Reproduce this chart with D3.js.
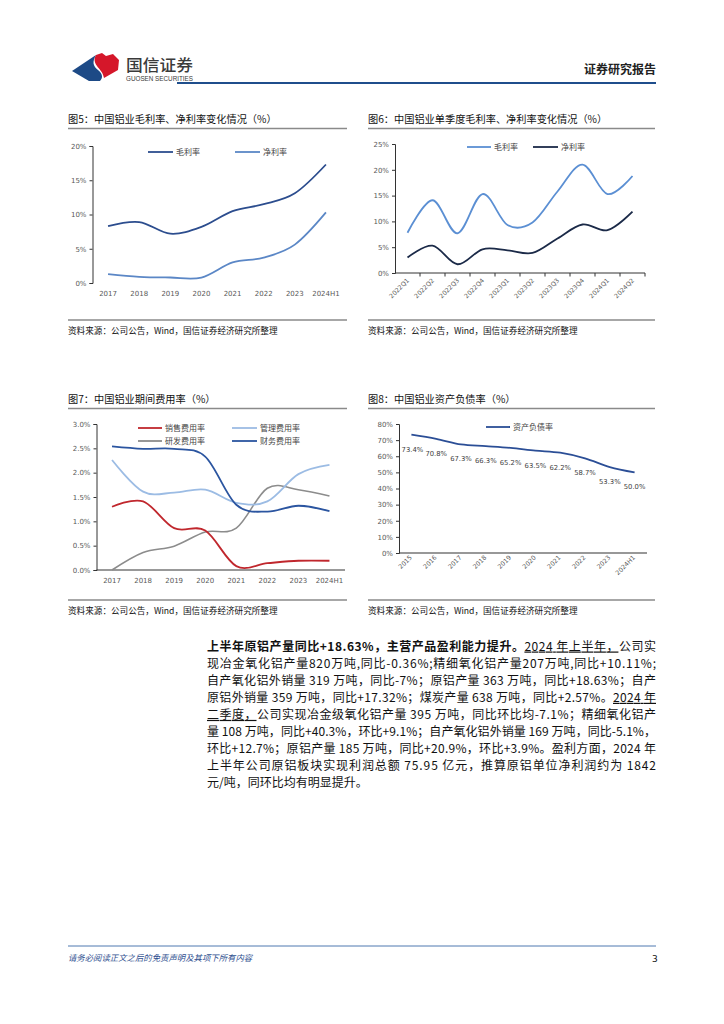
<!DOCTYPE html>
<html><head><meta charset="utf-8">
<script src="https://cdn.jsdelivr.net/npm/d3@7"></script>
<style>
html,body{margin:0;padding:0;background:#fff;}
svg{display:block;}
</style></head>
<body>
<svg id="page" width="724" height="1024"></svg>
<script>
// ---------- DATA ----------
const years5 = ["2017","2018","2019","2020","2021","2022","2023","2024H1"];
const gross5 = [8.3, 8.9, 7.2, 8.2, 10.5, 11.5, 13.1, 17.3];
const net5   = [1.3, 0.9, 0.8, 0.8, 3.0, 3.7, 5.6, 10.3];
const ticks5 = [0, 5, 10, 15, 20];

const quarters6 = ["2022Q1","2022Q2","2022Q3","2022Q4","2023Q1","2023Q2","2023Q3","2023Q4","2024Q1","2024Q2"];
const gross6 = [7.8, 14.1, 7.7, 15.3, 9.3, 9.8, 15.8, 21.0, 15.3, 18.8];
const net6   = [3.0, 5.3, 1.7, 4.6, 4.4, 3.9, 6.7, 9.4, 8.3, 11.9];
const ticks6 = [0, 5, 10, 15, 20, 25];

const years7 = ["2017","2018","2019","2020","2021","2022","2023","2024H1"];
const sales7 = [1.30, 1.41, 0.86, 0.81, 0.08, 0.14, 0.19, 0.19];
const mgmt7  = [2.26, 1.61, 1.59, 1.65, 1.38, 1.41, 1.97, 2.16];
const rnd7   = [0.00, 0.36, 0.49, 0.78, 0.86, 1.68, 1.65, 1.52];
const fin7   = [2.54, 2.49, 2.49, 2.33, 1.34, 1.20, 1.32, 1.21];
const ticks7 = [0, 0.5, 1.0, 1.5, 2.0, 2.5, 3.0];

const years8 = ["2015","2016","2017","2018","2019","2020","2021","2022","2023","2024H1"];
const debt8  = [73.4, 70.8, 67.3, 66.3, 65.2, 63.5, 62.2, 58.7, 53.3, 50.0];
const ticks8 = [0, 10, 20, 30, 40, 50, 60, 70, 80];

const titles = ["图5：中国铝业毛利率、净利率变化情况（%）","图6：中国铝业单季度毛利率、净利率变化情况（%）","图7：中国铝业期间费用率（%）","图8：中国铝业资产负债率（%）"];
const sourceText = "资料来源：公司公告，Wind，国信证券经济研究所整理";

// ---------- PAGE ----------
const svg = d3.select("#page");
const CJK = "'Noto Sans CJK SC','Noto Sans',sans-serif";
const AX = "'DejaVu Sans','Liberation Sans',sans-serif";
const tickColor = "#595959";

// header logo
svg.append("path").attr("d","M72,71 L96,55 C92,62 93,66 98,70 C103,74 103,78 100,81 L89,81 Z").attr("fill","#1d4a86");
svg.append("path").attr("d","M96,55 L102,53 L106,56 L113,54 L119,60 L118,70 L104,78 C103,72 99,69 97,66 C94,62 94,58 96,55 Z").attr("fill","#d5172a");
svg.append("text").attr("x",126).attr("y",71).attr("font-family",CJK).attr("font-size",16).attr("fill","#3a3a3a").attr("font-weight",500)
  .attr("textLength",67).attr("lengthAdjust","spacingAndGlyphs").text("国信证券");
svg.append("text").attr("x",126).attr("y",81).attr("font-family","'Liberation Sans',sans-serif").attr("font-size",6.4).attr("fill","#3a3a3a").attr("textLength",67).attr("lengthAdjust","spacingAndGlyphs").text("GUOSEN SECURITIES");
svg.append("text").attr("x",656).attr("y",74).attr("text-anchor","end").attr("font-family",CJK).attr("font-size",12).attr("font-weight",700).attr("fill","#222").text("证券研究报告");
svg.append("line").attr("x1",177).attr("x2",656).attr("y1",83).attr("y2",83).attr("stroke","#1f4e8c").attr("stroke-width",2);

// ---------- helpers ----------
function frame(x1, x2, yTitle, yLineTop, yLineBot, ySrc, title){
  svg.append("text").attr("x",x1).attr("y",yTitle).attr("font-family",CJK).attr("font-size",10.2).attr("fill","#111").text(title);
  svg.append("line").attr("x1",x1).attr("x2",x2).attr("y1",yLineTop).attr("y2",yLineTop).attr("stroke","#8a8a8a").attr("stroke-width",1.5);
  svg.append("line").attr("x1",x1).attr("x2",x2).attr("y1",yLineBot).attr("y2",yLineBot).attr("stroke","#8a8a8a").attr("stroke-width",1.5);
  svg.append("text").attr("x",x1).attr("y",ySrc).attr("font-family",CJK).attr("font-size",8.6).attr("fill","#111").text(sourceText);
}
function yAxis(g, y, ticks, fmt){
  const ax = d3.axisLeft(y).tickValues(ticks).tickFormat(fmt).tickSize(3).tickPadding(3);
  g.call(ax);
  g.select(".domain").attr("stroke","#333").attr("stroke-width",1);
  g.selectAll(".tick line").attr("stroke","#333");
  g.selectAll(".tick text").attr("font-family",AX).attr("font-size",7).attr("fill",tickColor);
}
function legendItem(x, y, color, label, w){
  svg.append("line").attr("x1",x).attr("x2",x+(w||24)).attr("y1",y).attr("y2",y).attr("stroke",color).attr("stroke-width",1.8);
  svg.append("text").attr("x",x+(w||24)+3).attr("y",y+3).attr("font-family",CJK).attr("font-size",8).attr("fill","#444").text(label);
}
const curve = d3.curveCardinal.tension(0);
function drawLine(x, y, cats, vals, color, w){
  const line = d3.line().x((d,i)=>x(cats[i])+x.bandwidth()/2).y(d=>y(d)).curve(curve);
  svg.append("path").datum(vals).attr("d",line).attr("fill","none").attr("stroke",color).attr("stroke-width",w||1.8);
}

// ---------- Chart 5 ----------
frame(68, 347, 123, 128.5, 320, 333.5, titles[0]);
{
  const x = d3.scaleBand().domain(years5).range([92.5, 341.5]);
  const y = d3.scaleLinear().domain([0,20]).range([283,146]);
  yAxis(svg.append("g").attr("transform","translate(92.5,0)"), y, ticks5, d=>d+"%");
  const xa = svg.append("g").attr("transform","translate(0,283)").call(d3.axisBottom(x).tickSize(0).tickPadding(8));
  xa.select(".domain").remove();
  xa.selectAll(".tick text").attr("font-family",AX).attr("font-size",7).attr("fill",tickColor);
  drawLine(x,y,years5,net5,"#5b87c6");
  drawLine(x,y,years5,gross5,"#2c4d8e");
  legendItem(148,152,"#2c4d8e","毛利率",25);
  legendItem(235,152,"#5b87c6","净利率",25);
}

// ---------- Chart 6 ----------
frame(368, 655, 123, 128.5, 320, 333.5, titles[1]);
{
  const x = d3.scaleBand().domain(quarters6).range([395, 645]);
  const y = d3.scaleLinear().domain([0,25]).range([273,144]);
  yAxis(svg.append("g").attr("transform","translate(395,0)"), y, ticks6, d=>d+"%");
  svg.append("line").attr("x1",395).attr("x2",645).attr("y1",273).attr("y2",273).attr("stroke","#333");
  quarters6.forEach((q,i)=>{ const bx = x(q)+x.bandwidth();
    svg.append("line").attr("x1",bx).attr("x2",bx).attr("y1",273).attr("y2",276.5).attr("stroke","#333"); });
  quarters6.forEach(q=>{
    const cx = x(q)+x.bandwidth()/2;
    svg.append("text").attr("transform",`translate(${cx+2},${281}) rotate(-45)`).attr("text-anchor","end")
      .attr("font-family",AX).attr("font-size",6.3).attr("fill",tickColor).text(q);
  });
  drawLine(x,y,quarters6,gross6,"#5b8fd3");
  drawLine(x,y,quarters6,net6,"#1b2a48");
  legendItem(467,147,"#5b8fd3","毛利率",24);
  legendItem(533,147,"#1b2a48","净利率",25);
}

// ---------- Chart 7 ----------
frame(68, 347, 403, 408.5, 600, 613.5, titles[2]);
{
  const x = d3.scaleBand().domain(years7).range([96.5, 345]);
  const y = d3.scaleLinear().domain([0,3]).range([570,424]);
  yAxis(svg.append("g").attr("transform","translate(96.5,0)"), y, ticks7, d=>d.toFixed(1)+"%");
  svg.append("line").attr("x1",96.5).attr("x2",345).attr("y1",570).attr("y2",570).attr("stroke","#333");
  const xa = svg.append("g").attr("transform","translate(0,570)").call(d3.axisBottom(x).tickSize(0).tickPadding(8));
  xa.select(".domain").remove();
  xa.selectAll(".tick text").attr("font-family",AX).attr("font-size",7).attr("fill",tickColor);
  drawLine(x,y,years7,rnd7,"#8c8c8c",1.6);
  drawLine(x,y,years7,mgmt7,"#9cbce4",1.8);
  drawLine(x,y,years7,fin7,"#2b55a0",1.8);
  drawLine(x,y,years7,sales7,"#c0272d",1.8);
  legendItem(138,428,"#c0272d","销售费用率",24);
  legendItem(232,428,"#9cbce4","管理费用率",25);
  legendItem(138,441,"#8c8c8c","研发费用率",24);
  legendItem(232,441,"#2b55a0","财务费用率",25);
}

// ---------- Chart 8 ----------
frame(368, 655, 403, 408.5, 600, 613.5, titles[3]);
{
  const x = d3.scaleBand().domain(years8).range([399, 647]);
  const y = d3.scaleLinear().domain([0,80]).range([553,424]);
  yAxis(svg.append("g").attr("transform","translate(399,0)"), y, ticks8, d=>d+"%");
  svg.append("line").attr("x1",399).attr("x2",647).attr("y1",553).attr("y2",553).attr("stroke","#333").attr("stroke-width",1.2);
  years8.forEach(q=>{
    const cx = x(q)+x.bandwidth()/2;
    svg.append("text").attr("transform",`translate(${cx+1},${558}) rotate(-45)`).attr("text-anchor","end")
      .attr("font-family",AX).attr("font-size",6.3).attr("fill",tickColor).text(q);
  });
  drawLine(x,y,years8,debt8,"#2b4e96",1.8);
  years8.forEach((q,i)=>{
    const cx = x(q)+x.bandwidth()/2;
    svg.append("text").attr("x",i===0 ? cx+1 : cx).attr("y",y(debt8[i])+17).attr("text-anchor","middle")
      .attr("font-family",AX).attr("font-size",6.8).attr("fill","#404040").text(debt8[i].toFixed(1)+"%");
  });
  legendItem(486,427,"#2b4e96","资产负债率",24);
}

// ---------- Paragraph ----------
const paraLines = [
  [{t:"上半年原铝产量同比+18.63%，主营产品盈利能力提升。",b:1},{t:"2024 年上半年，",u:1},{t:"公司实"}],
  [{t:"现冶金氧化铝产量820万吨,同比-0.36%;精细氧化铝产量207万吨,同比+10.11%;"}],
  [{t:"自产氧化铝外销量 319 万吨，同比-7%；原铝产量 363 万吨，同比+18.63%；自产"}],
  [{t:"原铝外销量 359 万吨，同比+17.32%；煤炭产量 638 万吨，同比+2.57%。"},{t:"2024 年",u:1}],
  [{t:"二季度，",u:1},{t:"公司实现冶金级氧化铝产量 395 万吨，同比环比均-7.1%；精细氧化铝产"}],
  [{t:"量 108 万吨，同比+40.3%，环比+9.1%；自产氧化铝外销量 169 万吨，同比-5.1%，"}],
  [{t:"环比+12.7%；原铝产量 185 万吨，同比+20.9%，环比+3.9%。盈利方面，2024 年"}],
  [{t:"上半年公司原铝板块实现利润总额 75.95 亿元，推算原铝单位净利润约为 1842"}],
  [{t:"元/吨，同环比均有明显提升。"}]
];
const px0 = 207, pwidth = 449;
paraLines.forEach((segs,i)=>{
  const yb = 650.5 + i*17.1;
  const txt = svg.append("text").attr("x",px0).attr("y",yb).attr("font-family",CJK).attr("font-size",12).attr("fill","#111");
  segs.forEach(s=>{
    const ts = txt.append("tspan").text(s.t);
    if(s.b) ts.attr("font-weight",700);
    if(s.u) ts.attr("text-decoration","underline");
  });
  if(i < paraLines.length-1) txt.attr("textLength",pwidth).attr("lengthAdjust","spacing");
});

// ---------- Footer ----------
svg.append("line").attr("x1",68).attr("x2",656).attr("y1",946).attr("y2",946).attr("stroke","#4f78b0").attr("stroke-width",1);
svg.append("text").attr("x",68).attr("y",961).attr("font-family",CJK).attr("font-size",8.4).attr("font-style","italic").attr("fill","#2f4f8f").text("请务必阅读正文之后的免责声明及其项下所有内容");
svg.append("text").attr("x",652).attr("y",962).attr("font-family",AX).attr("font-size",9).attr("fill","#111").text("3");
</script>
</body></html>
